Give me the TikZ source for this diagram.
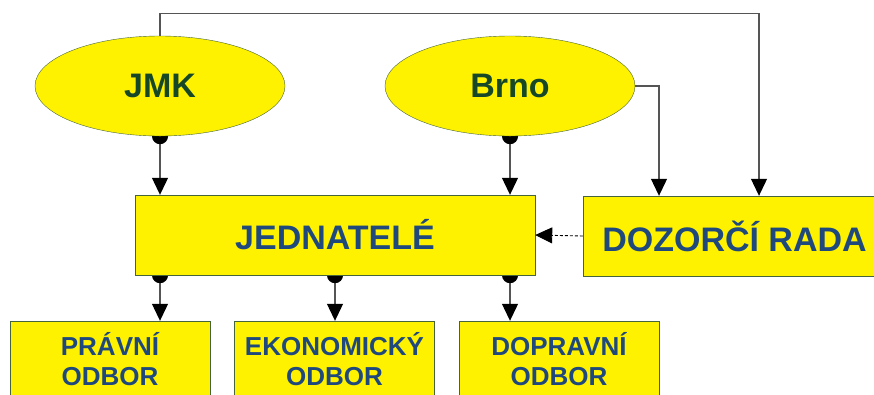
\documentclass[tikz,border=0pt]{standalone}
\usepackage{fontspec}
\setmainfont{Liberation Sans}
\usetikzlibrary{arrows.meta, positioning, shapes.geometric, backgrounds}

\definecolor{orgblue}{RGB}{31,73,125}
\definecolor{orggreen}{RGB}{22,72,40}
\definecolor{orgedge}{RGB}{70,100,60}
\definecolor{orgline}{RGB}{85,85,85}

\begin{document}
\begin{tikzpicture}[x=1pt, y=-1pt]
        % Styles
        \tikzstyle{owner} = [draw=orgedge, fill=yellow, ellipse, minimum width=250pt, minimum height=100pt,
                             inner sep=0pt, font=\fontsize{34}{36}\selectfont\bfseries, text=orggreen]
        \tikzstyle{body} = [draw=orgedge, fill=yellow, minimum height=80pt, inner sep=0pt,
                            font=\fontsize{34}{36}\selectfont\bfseries, text=orgblue]
        \tikzstyle{dept} = [draw=orgedge, fill=yellow, minimum width=200pt, minimum height=76pt, inner sep=0pt,
                            align=center, font=\fontsize{26}{30}\selectfont\bfseries, text=orgblue]
        \tikzstyle{link} = [orgline, line width=1.1pt, shorten <=-8pt,
                            {Circle[length=16pt, color=black]}-{Triangle[length=17pt, width=16pt, color=black]}]
        \tikzstyle{feed} = [orgline, line width=1.1pt, -{Triangle[length=17pt, width=16pt, color=black]}]

        \useasboundingbox (0,0) rectangle (874,394);
        \clip (0,0) rectangle (874,394);

        % Owners
        \node[owner] (jmk) at (160,86) {JMK};
        \node[owner] (brno) at (510,86) {Brno};

        % Management and supervisory board
        \node[body, minimum width=400pt] (jednatele) at (335,235) {JEDNATELÉ};
        \node[body, minimum width=303pt] (rada) at (734.5,236) {DOZORČÍ RADA};

        % Departments
        \node[dept] (pravni) at (110,359) {PRÁVNÍ\\ODBOR};
        \node[dept] (ekonom) at (334.5,359) {EKONOMICKÝ\\ODBOR};
        \node[dept] (doprava) at (559,359) {DOPRAVNÍ\\ODBOR};

        \begin{scope}[on background layer]
            % Owners to management
            \draw[link] (jmk.south) -- (jmk.south |- jednatele.north);
            \draw[link] (brno.south) -- (brno.south |- jednatele.north);

            % Management to departments
            \draw[link] (jmk.south |- jednatele.south) -- (jmk.south |- pravni.north);
            \draw[link] (jednatele.south) -- (jednatele.south |- ekonom.north);
            \draw[link] (brno.south |- jednatele.south) -- (brno.south |- doprava.north);
        \end{scope}

        % Owners to supervisory board
        \draw[feed] (brno.east) -| ([xshift=-75.5pt]rada.north);
        \draw[feed] (jmk.north) -- ++(0,-22) -| ([xshift=24.5pt]rada.north);

        % Board reports to management
        \draw[feed, black, line width=0.9pt, dash pattern=on 3pt off 2pt] (rada.west) -- (jednatele.east);
\end{tikzpicture}
\end{document}
